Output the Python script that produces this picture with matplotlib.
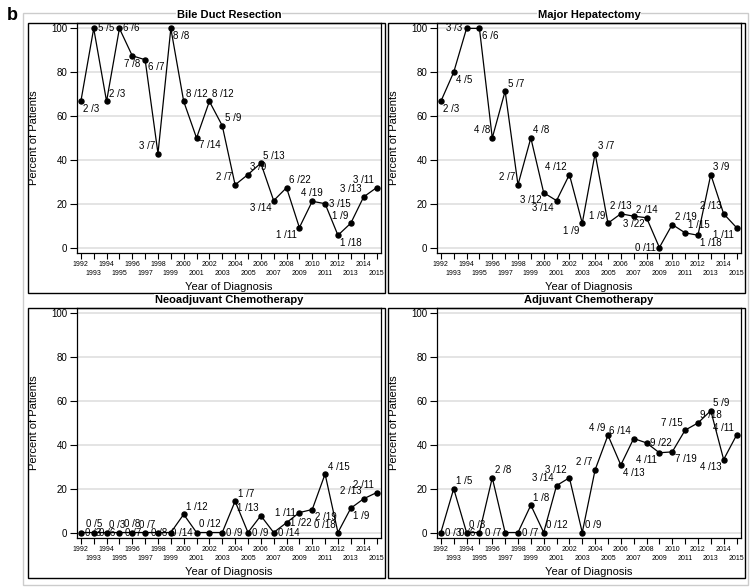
import matplotlib
matplotlib.use("Agg")
import matplotlib.pyplot as plt
from matplotlib.patches import Rectangle

plt.rcParams['font.family'] = ['Liberation Sans', 'DejaVu Sans']

years = list(range(1992, 2016))

bile_pct = [66.7, 100, 66.7, 100, 87.5, 85.7, 42.9, 100, 66.7, 50.0, 66.7, 55.6,
            28.6, 33.3, 38.5, 21.4, 27.3, 9.1, 21.1, 20.0, 5.6, 11.1, 23.1, 27.3]
bile_lbl = ["2 /3", "5 /5", "2 /3", "6 /6", "7 /8", "6 /7", "3 /7", "8 /8", "8 /12", "7 /14",
            "8 /12", "5 /9", "2 /7", "3 /9", "5 /13", "3 /14", "6 /22", "1 /11", "4 /19",
            "3 /15", "1 /18", "1 /9", "3 /13", "3 /11"]
bile_pos = ['lr', 'r', 'ur', 'r', 'd', 'lr', 'ul', 'lr', 'ur', 'lr', 'ur', 'ur',
            'ul', 'ur', 'ur', 'll', 'ur', 'll', 'u', 'r', 'lr', 'ul', 'ul', 'ul']

major_pct = [66.7, 80, 100, 100, 50, 71.4, 28.6, 50, 25, 21.4, 33.3, 11.1,
             42.9, 11.1, 15.4, 14.3, 13.6, 0, 10.5, 6.7, 5.6, 33.3, 15.4, 9.1]
major_lbl = ["2 /3", "4 /5", "3 /3", "6 /6", "4 /8", "5 /7", "2 /7", "4 /8", "3 /12", "3 /14",
             "4 /12", "1 /9", "3 /7", "1 /9", "2 /13", "3 /22", "2 /14", "0 /11", "2 /19",
             "1 /15", "1 /18", "3 /9", "2 /13", "1 /11"]
major_pos = ['lr', 'lr', 'l', 'lr', 'ul', 'ur', 'ul', 'ur', 'll', 'll', 'ul', 'll',
             'ur', 'ul', 'u', 'd', 'u', 'l', 'ur', 'ur', 'lr', 'ur', 'ul', 'll']

neo_pct = [0, 0, 0, 0, 0, 0, 0, 0, 8.3, 0, 0, 0,
           14.3, 0, 7.7, 0, 4.5, 9.1, 10.5, 26.7, 0, 11.1, 15.4, 18.2]
neo_lbl = ["0 /3", "0 /5", "0 /3", "0 /6", "0 /8", "0 /7", "0 /7", "0 /8", "1 /12", "0 /14",
           "0 /12", "0 /9", "1 /7", "0 /9", "1 /13", "0 /14", "1 /22", "1 /11", "2 /19",
           "4 /15", "0 /18", "1 /9", "2 /13", "2 /11"]
neo_pos = ['r', 'u', 'ur', 'l', 'u', 'l', 'ul', 'l', 'ur', 'l', 'u', 'r',
           'ur', 'r', 'ul', 'r', 'r', 'l', 'lr', 'ur', 'ul', 'lr', 'ul', 'ul']

adj_pct = [0, 20, 0, 0, 25, 0, 0, 12.5, 0, 21.4, 25, 0,
           28.6, 44.4, 30.8, 42.9, 40.9, 36.4, 36.8, 46.7, 50, 55.6, 33.3, 44.4]
adj_lbl = ["0 /3", "1 /5", "0 /3", "0 /6", "2 /8", "0 /7", "0 /7", "1 /8", "0 /12", "3 /14",
           "3 /12", "0 /9", "2 /7", "4 /9", "4 /13", "6 /14", "9 /22", "4 /11", "7 /19",
           "7 /15", "9 /18", "5 /9", "4 /13", "4 /11"]
adj_pos = ['r', 'ur', 'ur', 'l', 'ur', 'l', 'r', 'ur', 'ur', 'ul', 'ul', 'ur',
           'ul', 'ul', 'lr', 'ul', 'r', 'll', 'lr', 'ul', 'ur', 'ur', 'll', 'ul']

titles = ["Bile Duct Resection", "Major Hepatectomy",
          "Neoadjuvant Chemotherapy", "Adjuvant Chemotherapy"]
yticks = [0, 20, 40, 60, 80, 100]

W, H = 750, 587
fig = plt.figure(figsize=(W / 100, H / 100), dpi=100)


def fx(x):
    return x / W


def fy(y):
    return 1 - y / H


# outer light grey border
fig.add_artist(Rectangle((fx(23), fy(585)), fx(748) - fx(23), fy(13) - fy(585),
                         transform=fig.transFigure, fill=False, ec='#cccccc', lw=1.0))

d = 1.8
pos_map = {
    'r': (d + 1, 0, 'left', 'center'),
    'l': (-d - 1, 0, 'right', 'center'),
    'ur': (d, d, 'left', 'bottom'),
    'lr': (d, -d, 'left', 'top'),
    'ul': (-d, d, 'right', 'bottom'),
    'll': (-d, -d, 'right', 'top'),
    'u': (0, d + 0.5, 'center', 'bottom'),
    'd': (0, -d - 0.5, 'center', 'top'),
}

panels = [
    (bile_pct, bile_lbl, bile_pos, 0, 0),
    (major_pct, major_lbl, major_pos, 1, 0),
    (neo_pct, neo_lbl, neo_pos, 0, 1),
    (adj_pct, adj_lbl, adj_pos, 1, 1),
]

for i, (pct, lbl, pos, col, row) in enumerate(panels):
    dx = 360 * col
    dy = 285 * row
    px0, px1 = 77 + dx, 381 + dx
    py0, py1 = 22.7 + dy, 253 + dy
    bx0, bx1 = 28 + dx, 385 + dx
    by0, by1 = py0, 293 + dy

    fig.add_artist(Rectangle((fx(bx0), fy(by1)), fx(bx1) - fx(bx0), fy(by0) - fy(by1),
                             transform=fig.transFigure, fill=False, ec='black', lw=1.0))

    ax = fig.add_axes([fx(px0), fy(py1), fx(px1) - fx(px0), fy(py0) - fy(py1)])
    ax.set_xlim(1991.7, 2015.35)
    ax.set_ylim(-2.5, 102.6)
    ax.set_axisbelow(True)
    ax.yaxis.grid(True, color='#e2e2e2', lw=1.3)
    ax.xaxis.grid(False)
    for s in ax.spines.values():
        s.set_color('black')
        s.set_linewidth(0.9)

    ax.plot(years, pct, color='black', lw=0.9, marker='o', ms=3.6,
            mfc='black', mec='black', clip_on=False, zorder=3)

    for x, y, t, p in zip(years, pct, lbl, pos):
        ox, oy, ha, va = pos_map[p]
        ax.annotate(t, (x, y), xytext=(ox, oy), textcoords='offset points',
                    ha=ha, va=va, fontsize=7, color='black', zorder=4,
                    annotation_clip=False)

    ax.set_yticks(yticks)
    ax.set_yticklabels([str(v) for v in yticks])
    ax.tick_params(axis='y', length=5, width=0.8, pad=2, labelsize=7, direction='out')
    ax.set_xticks(years)
    ax.set_xticklabels([str(yv) if yv % 2 == 0 else "\n" + str(yv) for yv in years],
                       linespacing=1.3)
    ax.tick_params(axis='x', length=4, width=0.8, pad=2, labelsize=5, direction='out')

    fig.text(fx((px0 + px1) / 2), fy(287 + dy), "Year of Diagnosis",
             ha='center', va='center', fontsize=8)
    fig.text(fx(34 + dx), fy((py0 + py1) / 2), "Percent of Patients",
             ha='center', va='center', rotation=90, fontsize=8)
    fig.text(fx((px0 + px1) / 2), fy(15 + dy), titles[i], ha='center', va='center',
             fontsize=8, fontweight='bold',
             bbox=dict(facecolor='white', edgecolor='none', pad=0.5))

fig.text(fx(12), fy(15), "b", ha='center', va='center', fontsize=13, fontweight='bold')

fig.savefig("out.png", dpi=100)
